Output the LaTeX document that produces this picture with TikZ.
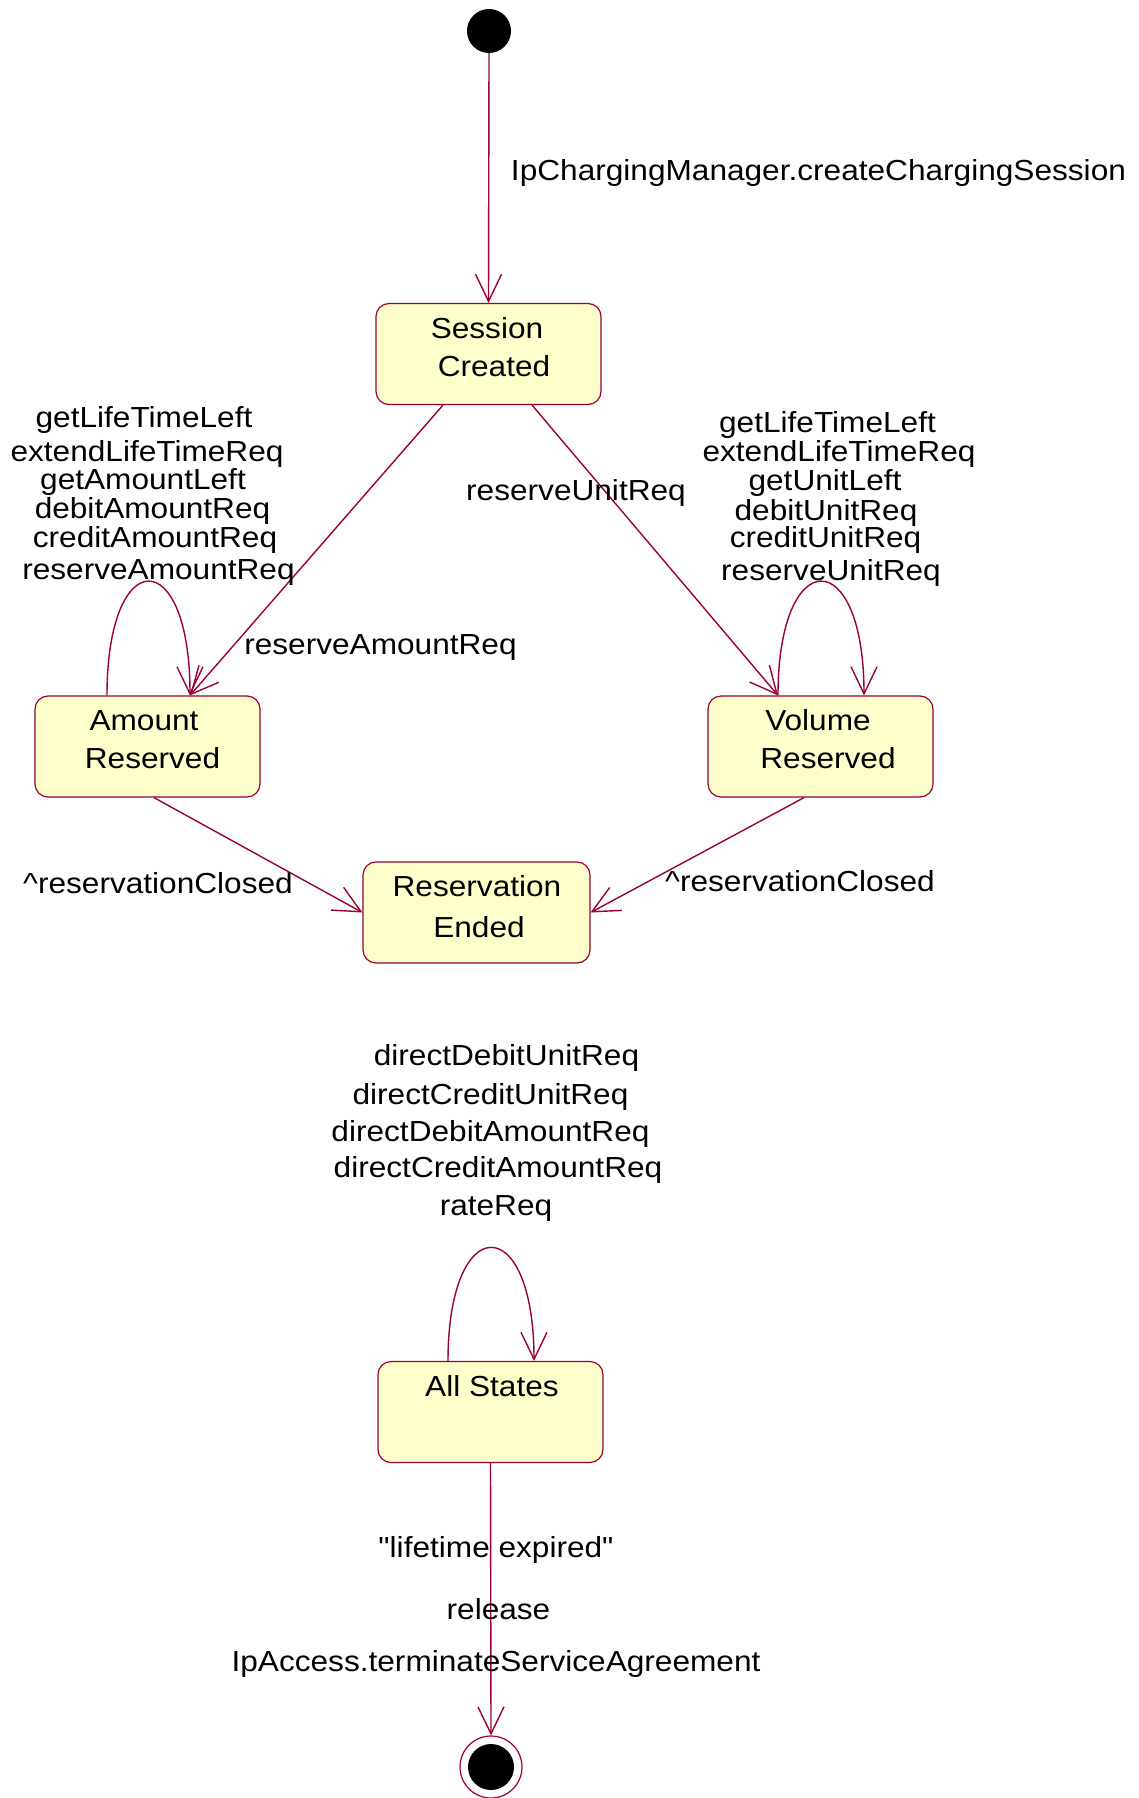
\documentclass[tikz,border=0pt]{standalone}
\usepackage{fontspec}
\setmainfont{Liberation Sans}[FakeStretch=1.09]
\newfontfamily\plainquotefont{Liberation Sans}[FakeStretch=1.09]
\usetikzlibrary{arrows.meta}
\definecolor{roseline}{RGB}{153,0,51}
\definecolor{rosefill}{RGB}{255,255,204}
\begin{document}
\begin{tikzpicture}[x=1pt,y=-1pt,
  txt/.style={inner sep=0pt,anchor=base,font=\fontsize{29}{34}\selectfont},
  statebox/.style={draw=roseline,fill=rosefill,line width=1.2pt,rounded corners=13pt,
    minimum width=225pt,minimum height=101pt,inner sep=0pt},
  trans/.style={draw=roseline,line width=1.4pt,-{Straight Barb[length=27pt,width=26pt]}},
]
\useasboundingbox (0,0) rectangle (1139,1798);

% states
\node[circle,fill=black,minimum size=44pt,inner sep=0pt] (init) at (489,31) {};
\node[statebox] (SC) at (488.5,354) {};
\node[statebox] (AR) at (147.5,746.5) {};
\node[statebox] (VR) at (820.5,746.5) {};
\node[statebox,minimum width=227pt] (RE) at (476.5,912.5) {};
\node[statebox] (AS) at (490.5,1412) {};
\node[circle,draw=roseline,line width=1.2pt,fill=white,minimum size=62pt,inner sep=0pt] (fin) at (491,1767) {};
\node[circle,fill=black,minimum size=46pt,inner sep=0pt] (finin) at (fin) {};

% state texts
\node[txt] (tSC1) at (487,338) {Session};
\node[txt] (tSC2) at (494,376) {Created};
\node[txt] (tAR1) at (144,730) {Amount};
\node[txt] (tAR2) at (152.5,768) {Reserved};
\node[txt] (tVR1) at (818,730) {Volume};
\node[txt] (tVR2) at (828,768) {Reserved};
\node[txt] (tRE1) at (477,896) {Reservation};
\node[txt] (tRE2) at (479,937) {Ended};
\node[txt] (tAS) at (492,1396) {All States};

% transitions
\draw[trans] (init.south) -- (SC.north);
\draw[trans] ([xshift=-45.5pt]SC.south) -- ([xshift=42.5pt]AR.north);
\draw[trans] ([xshift=43.5pt]SC.south) -- ([xshift=-42.5pt]VR.north);
\draw[trans] ([xshift=-40.5pt]AR.north) .. controls +(0,-152) and +(0,-152) .. ([xshift=42.5pt]AR.north);
\draw[trans] ([xshift=-42.5pt]VR.north) .. controls +(0,-152) and +(0,-152) .. ([xshift=43.5pt]VR.north);
\draw[trans] ([xshift=6.5pt]AR.south) -- (RE.west);
\draw[trans] ([xshift=-16.5pt]VR.south) -- (RE.east);
\draw[trans] ([xshift=-42.5pt]AS.north) .. controls +(0,-151) and +(0,-151) .. ([xshift=43.5pt]AS.north);
\draw[trans] (AS.south) -- (fin.north);

% transition labels
\node[txt] (l0) at (818.5,181) {IpChargingManager.createChargingSession};
\node[txt] (la1) at (144,427) {getLifeTimeLeft};
\node[txt] (la2) at (147,461) {extendLifeTimeReq};
\node[txt] (la3) at (143,489) {getAmountLeft};
\node[txt] (la4) at (152.5,518) {debitAmountReq};
\node[txt] (la5) at (155,547) {creditAmountReq};
\node[txt] (la6) at (158.5,579) {reserveAmountReq};
\node[txt] (lv1) at (827.5,432) {getLifeTimeLeft};
\node[txt] (lv2) at (839,461) {extendLifeTimeReq};
\node[txt] (lv3) at (825,490) {getUnitLeft};
\node[txt] (lv4) at (826,520) {debitUnitReq};
\node[txt] (lv5) at (825.5,547) {creditUnitReq};
\node[txt] (lv6) at (831,580) {reserveUnitReq};
\node[txt] (lru) at (576,500) {reserveUnitReq};
\node[txt] (lra) at (380.5,654) {reserveAmountReq};
\node[txt] (lc1) at (158,893) {\^{}reservationClosed};
\node[txt] (lc2) at (800,891) {\^{}reservationClosed};
\node[txt] (ld1) at (506.5,1065) {directDebitUnitReq};
\node[txt] (ld2) at (490.5,1104) {directCreditUnitReq};
\node[txt] (ld3) at (490.5,1141) {directDebitAmountReq};
\node[txt] (ld4) at (498,1177) {directCreditAmountReq};
\node[txt] (ld5) at (496,1215) {rateReq};
\node[txt] (le1) at (496,1557) {\plainquotefont "lifetime expired"};
\node[txt] (le2) at (498.5,1619) {release};
\node[txt] (le3) at (496,1671) {IpAccess.terminateServiceAgreement};
\end{tikzpicture}
\end{document}
